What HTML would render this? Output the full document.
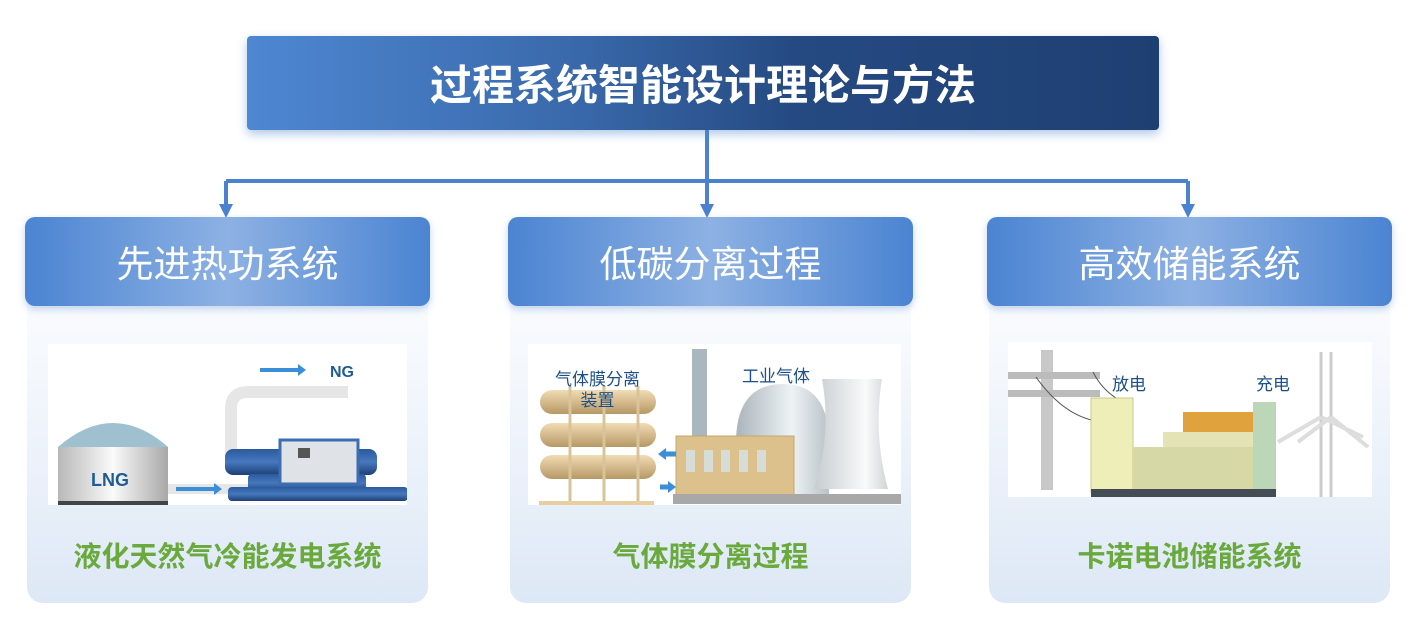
<!DOCTYPE html>
<html><head><meta charset="utf-8"><style>
*{margin:0;padding:0;box-sizing:border-box}
body{width:1421px;height:628px;background:#fff;position:relative;overflow:hidden;font-family:"Liberation Sans","Noto Sans CJK SC",sans-serif}
.title{position:absolute;left:247px;top:36px;width:912px;height:94px;border-radius:4px;background:linear-gradient(90deg,#4e87d2 0%,#3a6aac 35%,#254a82 60%,#1e3f72 100%);box-shadow:0 4px 10px rgba(80,130,200,.45);color:#fff;font-size:42px;font-weight:bold;text-align:center;line-height:100px}
.card{position:absolute;top:217px;width:405px;height:386px}
.body{position:absolute;left:2px;right:2px;top:20px;bottom:0;border-radius:16px;background:linear-gradient(180deg,#fff 0%,#f3f7fc 40%,#dde8f6 100%)}
.hd{position:absolute;left:0;top:0;width:100%;height:89px;border-radius:10px;background:linear-gradient(90deg,#4b84d2 0%,#8db1e3 50%,#4b84d2 100%);box-shadow:0 3px 8px rgba(80,130,210,.35);color:#fff;font-size:37px;text-align:center;line-height:96px}
.img{position:absolute;background:#fff;overflow:hidden}
.cap{position:absolute;left:0;width:100%;top:318px;text-align:center;color:#6aa93c;font-weight:bold;font-size:28px}
.lbl{position:absolute;color:#1f5c95;font-weight:bold}
</style></head><body>
<div class="title">过程系统智能设计理论与方法</div>
<svg style="position:absolute;left:0;top:0" width="1421" height="628">
<g stroke="#4a82cf" stroke-width="4" fill="none">
<path d="M707 130V210"/><path d="M226 181H1188"/><path d="M226 181V210"/><path d="M1188 181V210"/>
</g>
<g fill="#4a82cf"><path d="M219 204L226 218L233 204Z"/><path d="M700 204L707 218L714 204Z"/><path d="M1181 204L1188 218L1195 204Z"/></g>
</svg>

<div class="card" style="left:25px"><div class="body"></div><div class="hd">先进热功系统</div>
<div class="img" style="left:23px;top:127px;width:359px;height:161px">
<svg width="359" height="161">
<defs><linearGradient id="tk" x1="0" x2="1"><stop offset="0" stop-color="#b8b8b8"/><stop offset=".5" stop-color="#fafafa"/><stop offset="1" stop-color="#a8a8a8"/></linearGradient>
<linearGradient id="bl" y1="0" y2="1" x1="0" x2="0"><stop offset="0" stop-color="#2b5a9e"/><stop offset=".5" stop-color="#4778bd"/><stop offset="1" stop-color="#1d3f78"/></linearGradient></defs>
<path d="M10 103 Q65 55 120 103Z" fill="#9fc0cf"/>
<rect x="10" y="103" width="110" height="58" fill="url(#tk)"/>
<rect x="10" y="157" width="110" height="4" fill="#444"/>
<path d="M183 110V65Q183 48 200 48H300" stroke="#e6e6e6" stroke-width="12" fill="none"/>
<path d="M120 145H210" stroke="#e6e6e6" stroke-width="10"/>
<path d="M212 26h40" stroke="#3a8fd8" stroke-width="4"/><path d="M250 20l8 6-8 6z" fill="#3a8fd8"/>
<path d="M128 145h40" stroke="#3a8fd8" stroke-width="4"/><path d="M166 139l8 6-8 6z" fill="#3a8fd8"/>
<rect x="177" y="105" width="152" height="26" rx="8" fill="url(#bl)"/>
<rect x="200" y="130" width="118" height="18" rx="4" fill="url(#bl)"/>
<rect x="185" y="143" width="180" height="14" rx="4" fill="url(#bl)" transform="translate(-5,0)"/>
<rect x="232" y="96" width="78" height="44" fill="#dfe2e6" stroke="#3c6db0" stroke-width="3"/>
<rect x="250" y="104" width="12" height="10" fill="#555"/>
</svg>
<div class="lbl" style="left:43px;top:126px;font-size:18px">LNG</div>
<div class="lbl" style="left:282px;top:20px;font-size:16px">NG</div>
</div>
<div class="cap">液化天然气冷能发电系统</div></div>

<div class="card" style="left:508px"><div class="body"></div><div class="hd">低碳分离过程</div>
<div class="img" style="left:20px;top:127px;width:373px;height:161px">
<svg width="373" height="161">
<defs><linearGradient id="cy" x1="0" x2="0" y1="0" y2="1"><stop offset="0" stop-color="#f1dcb3"/><stop offset="1" stop-color="#b79866"/></linearGradient>
<linearGradient id="dm" x1="0" x2="1"><stop offset="0" stop-color="#aab4bb"/><stop offset=".6" stop-color="#eef3f5"/><stop offset="1" stop-color="#b9c2c8"/></linearGradient>
<linearGradient id="ct" x1="0" x2="1"><stop offset="0" stop-color="#c6cccf"/><stop offset=".7" stop-color="#fafafa"/><stop offset="1" stop-color="#d0d4d6"/></linearGradient></defs>
<rect x="12" y="46" width="116" height="24" rx="12" fill="url(#cy)"/>
<rect x="12" y="79" width="116" height="24" rx="12" fill="url(#cy)"/>
<rect x="12" y="111" width="116" height="24" rx="12" fill="url(#cy)"/>
<g stroke="#d9c49a" stroke-width="3"><path d="M42 42V160M76 42V160M110 42V160"/></g>
<rect x="11" y="157" width="115" height="4" fill="#e7cf9f"/>
<rect x="164" y="5" width="15" height="100" fill="#a9b8be"/>
<path d="M208 99Q208 40 255 40Q301 40 301 99V150H208Z" fill="url(#dm)"/>
<path d="M294 35H354Q345 90 360 145H286Q304 90 294 35Z" fill="url(#ct)"/>
<rect x="148" y="92" width="118" height="60" fill="#dcc18c" stroke="#c4a66e"/>
<g fill="#d6dcd6"><rect x="158" y="106" width="9" height="22"/><rect x="176" y="106" width="9" height="22"/><rect x="193" y="106" width="9" height="22"/><rect x="211" y="106" width="9" height="22"/><rect x="229" y="106" width="9" height="22"/></g>
<rect x="145" y="150" width="228" height="10" fill="#a8a8a8"/>
<path d="M148 110h-12" stroke="#3a8fd8" stroke-width="5"/><path d="M138 104l-8 6 8 6z" fill="#3a8fd8"/>
<path d="M132 143h10" stroke="#3a8fd8" stroke-width="5"/><path d="M140 137l8 6-8 6z" fill="#3a8fd8"/>
</svg>
<div class="lbl" style="left:12px;top:25px;font-size:17px;font-weight:normal;color:#1d4f86;line-height:21px;text-align:center;width:115px">气体膜分离<br>装置</div>
<div class="lbl" style="left:214px;top:18px;font-size:17px;font-weight:normal;color:#1d4f86">工业气体</div>
</div>
<div class="cap">气体膜分离过程</div></div>

<div class="card" style="left:987px"><div class="body"></div><div class="hd">高效储能系统</div>
<div class="img" style="left:21px;top:125px;width:364px;height:155px">
<svg width="364" height="155">
<rect x="33" y="8" width="12" height="140" fill="#c8c8c8"/>
<rect x="0" y="30" width="92" height="7" fill="#bbb"/><rect x="0" y="48" width="92" height="7" fill="#bbb"/>
<path d="M28 35Q60 80 100 80M85 30Q95 50 115 60" stroke="#555" fill="none"/>
<rect x="83" y="56" width="42" height="94" fill="#eeeeb8" stroke="#c9c98c"/>
<rect x="175" y="70" width="75" height="20" fill="#e0a23c"/>
<rect x="155" y="90" width="95" height="38" fill="#e3e3b5"/>
<rect x="125" y="105" width="120" height="45" fill="#d6d8a6"/>
<rect x="245" y="60" width="23" height="90" fill="#bcd6b8"/>
<rect x="83" y="147" width="185" height="8" fill="#444c55"/>
<g stroke="#ccc" stroke-width="3"><path d="M313 10V155M323 10V155"/></g>
<path d="M313 75L270 100M313 75L355 95M323 75L290 100M323 75L360 105" stroke="#ddd" stroke-width="4"/>
</svg>
<div class="lbl" style="left:104px;top:28px;font-size:17px;font-weight:normal;color:#1d4f86">放电</div>
<div class="lbl" style="left:248px;top:28px;font-size:17px;font-weight:normal;color:#1d4f86">充电</div>
</div>
<div class="cap">卡诺电池储能系统</div></div>
</body></html>
